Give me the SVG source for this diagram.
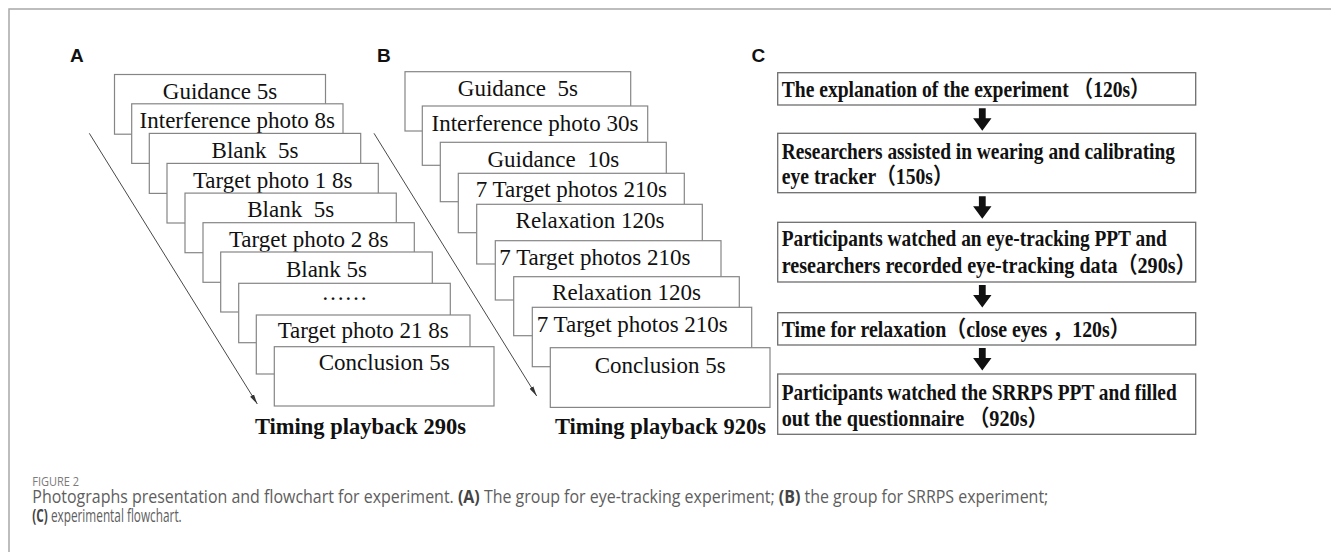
<svg xmlns="http://www.w3.org/2000/svg" width="1331" height="552" viewBox="0 0 1331 552">
  <style>
    .frame { stroke: #a8a8a8; stroke-width: 1.5; fill: none; }
    .card { fill: #ffffff; stroke: #858585; stroke-width: 1.2; }
    .step { fill: #ffffff; stroke: #6e6e6e; stroke-width: 1.3; }
    .cardText { font-family: "Liberation Serif", "Times New Roman", serif; font-size: 23px; fill: #111; }
    .mid { text-anchor: middle; }
    .timing { font-family: "Liberation Serif", "Times New Roman", serif; font-size: 22.5px; font-weight: bold; fill: #111; }
    .panel { font-family: "Liberation Sans", Arial, sans-serif; font-size: 19px; font-weight: bold; fill: #111; }
    .stepText { font-family: "Liberation Serif", "Times New Roman", "Noto Sans CJK SC", serif; font-size: 22.5px; font-weight: bold; fill: #111; }
    .timeline { stroke: #333; stroke-width: 0.9; fill: none; }
    .capHead { font-family: "Open Sans", "Liberation Sans", sans-serif; font-size: 13.5px; fill: #7a7a7a; }
    .cap { font-family: "Open Sans", "Liberation Sans", sans-serif; font-size: 17.5px; fill: #5e5e5e; }
    .capBold { font-weight: 700; fill: #444; }
  </style>
  <defs>
    <marker id="tip" viewBox="0 0 10 6" refX="10" refY="3" markerWidth="10" markerHeight="6" markerUnits="userSpaceOnUse" orient="auto">
      <path d="M0,0.8 L10,3 L0,5.2 Z" fill="#333"/>
    </marker>
    <path id="downArrow" d="M-3.4,0 H3.4 V10 H9.2 L0,22.4 L-9.2,10 H-3.4 Z" fill="#111"/>
  </defs>

  <!-- outer frame: top and left rules -->
  <path class="frame" d="M9,552 V9 H1331"/>

  <!-- panel letters -->
  <text class="panel" x="70" y="62">A</text>
  <text class="panel" x="377" y="62">B</text>
  <text class="panel" x="751.5" y="62">C</text>

  <!-- connectors: timelines and flowchart arrows -->
  <g id="connectors">
    <line class="timeline" x1="89.3" y1="133.3" x2="257.3" y2="404" marker-end="url(#tip)"/>
    <line class="timeline" x1="374" y1="133.3" x2="536.7" y2="396" marker-end="url(#tip)"/>
    <use href="#downArrow" x="982.3" y="108.3"/>
    <use href="#downArrow" x="982.3" y="196.3"/>
    <use href="#downArrow" x="982.3" y="285"/>
    <use href="#downArrow" x="982.3" y="348"/>
  </g>

  <!-- panel A: eye-tracking sequence -->
  <g id="a1"><rect class="card" x="114.5" y="74.5" width="211" height="59.7"/><text class="cardText mid" x="220" y="99">Guidance 5s</text></g>
  <g id="a2"><rect class="card" x="131.7" y="103.8" width="211.3" height="59.6"/><text class="cardText mid" x="237.3" y="128.4">Interference photo 8s</text></g>
  <g id="a3"><rect class="card" x="149.3" y="133.4" width="211.4" height="60"/><text class="cardText mid" x="255" y="158.3">Blank&#160; 5s</text></g>
  <g id="a4"><rect class="card" x="167" y="163.4" width="211.3" height="59.6"/><text class="cardText mid" x="272.7" y="187.5">Target photo 1 8s</text></g>
  <g id="a5"><rect class="card" x="185" y="193.1" width="211.3" height="59.6"/><text class="cardText mid" x="290.7" y="217.4">Blank&#160; 5s</text></g>
  <g id="a6"><rect class="card" x="203" y="222.7" width="211.3" height="59.6"/><text class="cardText mid" x="308.7" y="246.8">Target photo 2 8s</text></g>
  <g id="a7"><rect class="card" x="220.7" y="252" width="211.6" height="60"/><text class="cardText mid" x="326.5" y="276.7">Blank 5s</text></g>
  <g id="a8"><rect class="card" x="238.7" y="283.3" width="211.6" height="59.4"/><text class="cardText mid" x="344.5" y="299.5">……</text></g>
  <g id="a9"><rect class="card" x="256.3" y="315" width="213.7" height="59"/><text class="cardText mid" x="363.2" y="338.4">Target photo 21 8s</text></g>
  <g id="a10"><rect class="card" x="274.3" y="346.7" width="219.7" height="59.3"/><text class="cardText mid" x="384.2" y="370.2">Conclusion 5s</text></g>
  <text class="timing" x="255" y="434">Timing playback 290s</text>

  <!-- panel B: SRRPS sequence -->
  <g id="b1"><rect class="card" x="405" y="71.7" width="225.7" height="59.3"/><text class="cardText mid" x="517.9" y="96.3">Guidance&#160; 5s</text></g>
  <g id="b2"><rect class="card" x="422.3" y="106" width="225.4" height="59.3"/><text class="cardText mid" x="535" y="131">Interference photo 30s</text></g>
  <g id="b3"><rect class="card" x="440.3" y="142.3" width="226" height="59.4"/><text class="cardText mid" x="553.3" y="166.7">Guidance&#160; 10s</text></g>
  <g id="b4"><rect class="card" x="458.3" y="173.3" width="226" height="59.4"/><text class="cardText mid" x="571.3" y="196.8">7 Target photos 210s</text></g>
  <g id="b5"><rect class="card" x="476.7" y="204.3" width="225.6" height="59.7"/><text class="cardText mid" x="590" y="228.4">Relaxation 120s</text></g>
  <g id="b6"><rect class="card" x="495.3" y="240.7" width="225.7" height="59.3"/><text class="cardText" x="499.3" y="265">7 Target photos 210s</text></g>
  <g id="b7"><rect class="card" x="513.7" y="276.7" width="225.6" height="59"/><text class="cardText mid" x="626.5" y="300.2">Relaxation 120s</text></g>
  <g id="b8"><rect class="card" x="532.3" y="307.3" width="219.4" height="59.4"/><text class="cardText" x="536.7" y="331.7">7 Target photos 210s</text></g>
  <g id="b9"><rect class="card" x="550.3" y="347.7" width="219.7" height="59.7"/><text class="cardText mid" x="660.2" y="372.5">Conclusion 5s</text></g>
  <text class="timing" x="555" y="434">Timing playback 920s</text>

  <!-- panel C: experimental flowchart -->
  <g id="c1">
    <rect class="step" x="777.7" y="72.7" width="418" height="32.3"/>
    <text class="stepText" x="781.7" y="96.7" textLength="368" lengthAdjust="spacingAndGlyphs">The explanation of the experiment （120s）</text>
  </g>
  <g id="c2">
    <rect class="step" x="777.7" y="133.3" width="418" height="59.4"/>
    <text class="stepText" x="781.7" y="159.3" textLength="393.3" lengthAdjust="spacingAndGlyphs">Researchers assisted in wearing and calibrating</text>
    <text class="stepText" x="781.7" y="184.3" textLength="171" lengthAdjust="spacingAndGlyphs">eye tracker（150s）</text>
  </g>
  <g id="c3">
    <rect class="step" x="777.7" y="222.3" width="418" height="59.7"/>
    <text class="stepText" x="781.7" y="246.3" textLength="385" lengthAdjust="spacingAndGlyphs">Participants watched an eye-tracking PPT and</text>
    <text class="stepText" x="781.7" y="273.3" textLength="414" lengthAdjust="spacingAndGlyphs">researchers recorded eye-tracking data（290s）</text>
  </g>
  <g id="c4">
    <rect class="step" x="777.7" y="312.7" width="418" height="32.3"/>
    <text class="stepText" x="781.7" y="336.7" textLength="348" lengthAdjust="spacingAndGlyphs">Time for relaxation（close eyes ，120s）</text>
  </g>
  <g id="c5">
    <rect class="step" x="777.7" y="374" width="418" height="60.3"/>
    <text class="stepText" x="781.7" y="400" textLength="395" lengthAdjust="spacingAndGlyphs">Participants watched the SRRPS PPT and filled</text>
    <text class="stepText" x="781.7" y="426.3" textLength="266" lengthAdjust="spacingAndGlyphs">out the questionnaire （920s）</text>
  </g>

  <!-- caption -->
  <text class="capHead" x="32.3" y="486" textLength="46.7" lengthAdjust="spacingAndGlyphs">FIGURE 2</text>
  <text class="cap" x="32.3" y="502.7" textLength="1016" lengthAdjust="spacingAndGlyphs">Photographs presentation and flowchart for experiment. <tspan class="capBold">(A)</tspan> The group for eye-tracking experiment; <tspan class="capBold">(B)</tspan> the group for SRRPS experiment;</text>
  <text class="cap" x="32.3" y="521.7" textLength="149.4" lengthAdjust="spacingAndGlyphs"><tspan class="capBold">(C)</tspan> experimental flowchart.</text>
</svg>
